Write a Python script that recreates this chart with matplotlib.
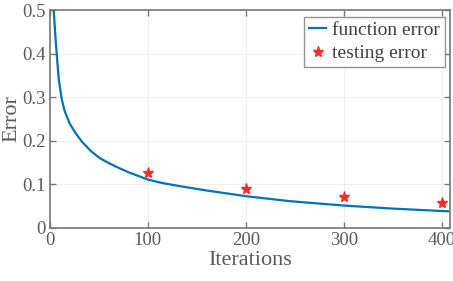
import matplotlib
matplotlib.use("Agg")
import matplotlib.pyplot as plt

# Data
iters = [1, 2, 3.8, 5.5, 7.5, 9, 12, 15, 20, 26, 33, 42, 51, 60, 68, 80, 93,
         100, 115, 130, 160, 200, 245, 300, 350, 400, 410]
func_err = [0.9, 0.65, 0.5, 0.44, 0.38, 0.34, 0.295, 0.268, 0.240, 0.218,
            0.197, 0.176, 0.160, 0.149, 0.140, 0.128, 0.117, 0.111, 0.103,
            0.097, 0.086, 0.073, 0.0615, 0.0515, 0.0445, 0.039, 0.038]
test_iters = [100, 200, 300, 400]
test_err = [0.127, 0.089, 0.070, 0.058]

xticks = [0, 100, 200, 300, 400]
yticks = [0, 0.1, 0.2, 0.3, 0.4, 0.5]

plt.rcParams['font.family'] = ['Liberation Serif', 'DejaVu Serif']
gray = '#5a5a5a'

fig = plt.figure(figsize=(4.53, 2.81), dpi=100)
ax = fig.add_axes([50/453, 53/281, 400/453, 218/281])

ax.plot(iters, func_err, color='#0072BD', lw=1.6, label='function error')
ax.plot(test_iters, test_err, linestyle='none', marker='*', color='#ff2a2a',
        markersize=8, label='testing error')

ax.set_xlim(0, 408.5)
ax.set_ylim(0, 0.5)
ax.set_xticks(xticks)
ax.set_yticks(yticks)
ax.set_yticklabels(['0', '0.1', '0.2', '0.3', '0.4', '0.5'])
ax.grid(True, color='#f0f0f0', lw=0.7)
ax.set_axisbelow(True)

for s in ax.spines.values():
    s.set_color('#777777')
    s.set_linewidth(1.2)
ax.tick_params(direction='in', top=True, right=True, length=4, width=1.0,
               colors='#777777', labelcolor=gray, labelsize=13.5, pad=3)

ax.set_xlabel('Iterations', fontsize=16, color=gray, labelpad=1)
ax.set_ylabel('Error', fontsize=16, color=gray, labelpad=1)

leg = ax.legend(loc='upper right', bbox_to_anchor=(0.9875, 0.97), fontsize=14,
                frameon=True, fancybox=False, handlelength=0.9,
                handletextpad=0.3, borderpad=0.25, labelspacing=0.3,
                borderaxespad=0.0)
leg.get_frame().set_edgecolor('#777777')
leg.get_frame().set_linewidth(1.0)
for t in leg.get_texts():
    t.set_color('#404040')

fig.savefig('out.png', dpi=100)
